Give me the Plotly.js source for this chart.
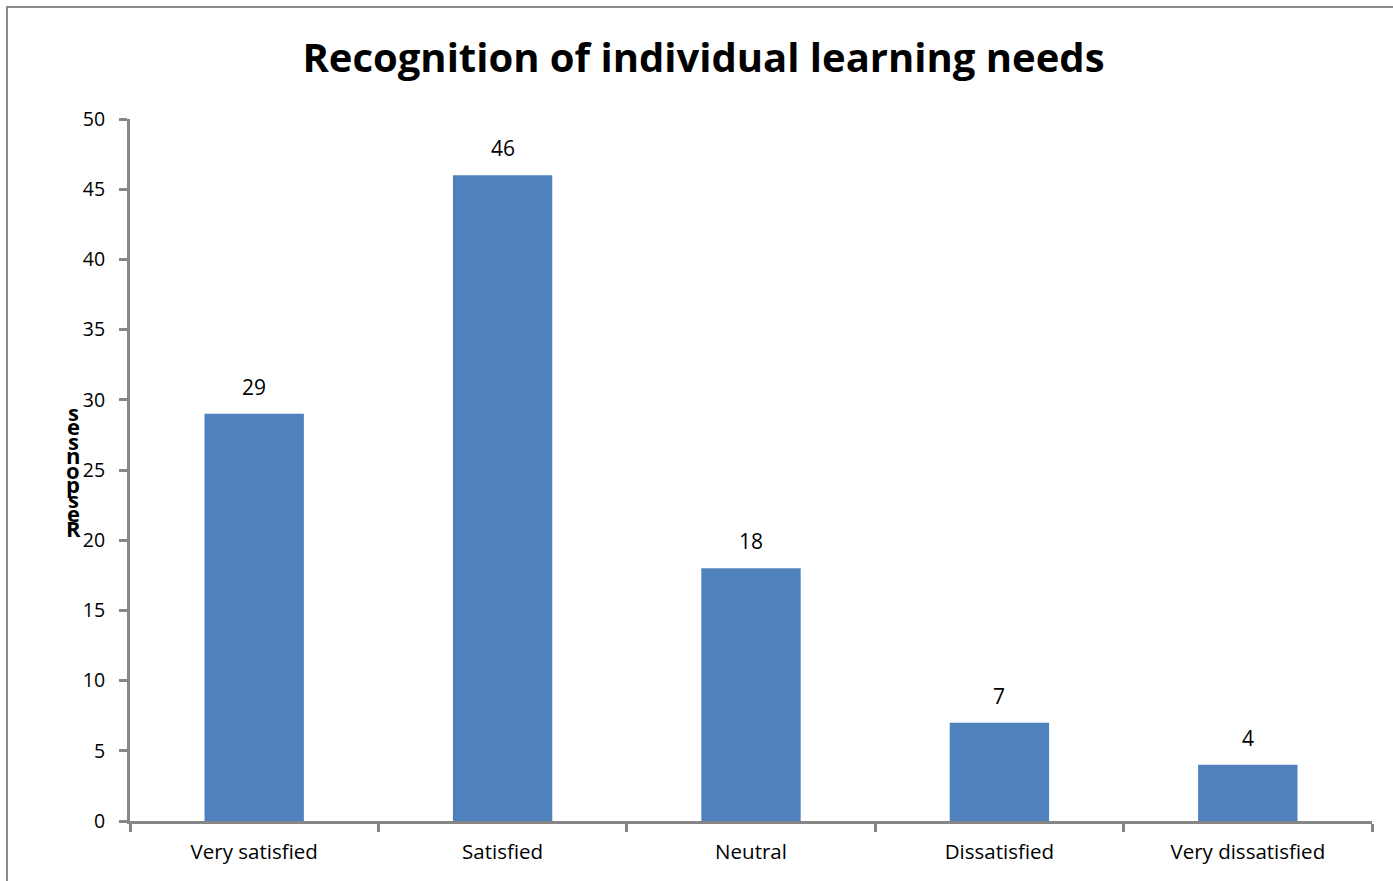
<!DOCTYPE html>
<html><head><meta charset="utf-8">
<script src="https://cdn.plot.ly/plotly-3.0.1.min.js"></script>
<style>
html,body{margin:0;padding:0;background:#fff;overflow:hidden}
#frame{position:absolute;left:6px;top:6px;width:1500px;height:1000px;border:2px solid #8c8c8c;box-sizing:border-box}
#chart{position:absolute;left:0;top:0;width:1393px;height:881px}
</style></head>
<body>
<div id="frame"></div>
<div id="chart"></div>
<script>
const categories = ["Very satisfied", "Satisfied", "Neutral", "Dissatisfied", "Very dissatisfied"];
const responses = [29, 46, 18, 7, 4];
const yTitle = "Responses";
const chartTitle = "Recognition of individual learning needs";

const FONT = "Open Sans, Noto Sans, sans-serif";
const axisColor = "#868686";

const anns = [];
// stacked upright letters of the y-axis title: read bottom-to-top ("R" at the bottom)
yTitle.split("").forEach((ch, i) => {
  anns.push({
    xref: "paper", yref: "paper", x: -0.0455, y: 0.418,
    yshift: i * 14.5, xanchor: "center", yanchor: "middle",
    text: "<b>" + ch + "</b>", showarrow: false,
    font: {family: FONT, size: 22, color: "#000"}
  });
});
// value labels above bars
categories.forEach((c, i) => {
  anns.push({
    xref: "x", yref: "y", x: c, y: responses[i], yanchor: "bottom", yshift: 11,
    text: String(responses[i]), showarrow: false,
    font: {family: FONT, size: 21, color: "#000"}
  });
});

const trace = {
  type: "bar", x: categories, y: responses,
  marker: {color: "#4f81bd", line: {width: 0}},
  hoverinfo: "none"
};

const layout = {
  width: 1393, height: 881,
  paper_bgcolor: "rgba(0,0,0,0)", plot_bgcolor: "rgba(0,0,0,0)",
  margin: {l: 130, r: 21, t: 119, b: 60},
  bargap: 0.6,
  showlegend: false,
  title: {text: "<b>" + chartTitle + "</b>", x: 0.505, xref: "container", xanchor: "center", y: 0.934, yanchor: "middle",
          font: {family: FONT, size: 40, color: "#000"}},
  xaxis: {type: "category", tickson: "boundaries", ticks: "outside", ticklen: 8, tickwidth: 3, tickcolor: axisColor,
          showline: true, linecolor: axisColor, linewidth: 3, showgrid: false, zeroline: false, ticklabelstandoff: 10,
          tickfont: {family: FONT, size: 20.5, color: "#000"}, fixedrange: true},
  yaxis: {range: [0, 50], dtick: 5, ticks: "outside", ticklen: 8, tickwidth: 3, tickcolor: axisColor,
          showline: true, linecolor: axisColor, linewidth: 3, showgrid: false, zeroline: false, ticklabelstandoff: 10,
          tickfont: {family: FONT, size: 19.5, color: "#000"}, fixedrange: true},
  annotations: anns
};

Plotly.newPlot("chart", [trace], layout, {displayModeBar: false, staticPlot: true});
</script>
</body></html>
